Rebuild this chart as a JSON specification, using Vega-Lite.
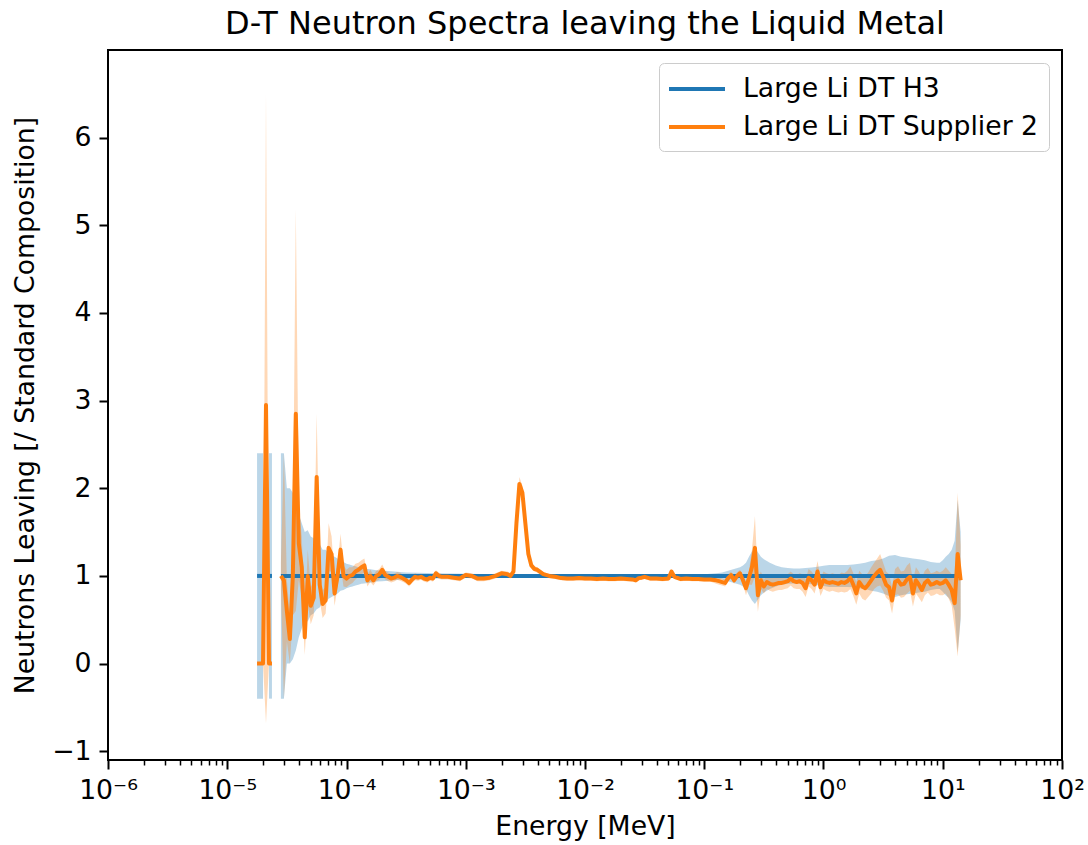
{
  "$schema": "https://vega.github.io/schema/vega-lite/v6.json",
  "width": 954,
  "height": 710,
  "autosize": {"type": "none"},
  "padding": {"left": 108, "top": 50, "right": 26, "bottom": 85},
  "title": {"text": "D-T Neutron Spectra leaving the Liquid Metal"},
  "datasets": {
    "h3": [
      {"energy": 1.778e-5, "seg": "b1", "ratio": 1, "lo": -0.4, "hi": 2.4},
      {"energy": 1.884e-5, "seg": "b1", "ratio": 1, "lo": -0.4, "hi": 2.4},
      {"energy": 1.995e-5, "seg": "b1", "ratio": 1, "lo": -0.4, "hi": 2.4},
      {"energy": 2.239e-5, "seg": "b2", "ratio": 1, "lo": -0.4, "hi": 2.4},
      {"energy": 2.371e-5, "seg": "b2", "ratio": 1, "lo": -0.4, "hi": 2.4},
      {"energy": 2.818e-5, "seg": "b3", "ratio": 1, "lo": -0.4, "hi": 2.4},
      {"energy": 2.985e-5, "seg": "b3", "ratio": 1, "lo": -0.4, "hi": 2.4},
      {"energy": 3.162e-5, "seg": "b3", "ratio": 1, "lo": 0.0, "hi": 2.0},
      {"energy": 3.350e-5, "seg": "b3", "ratio": 1, "lo": 0.0, "hi": 2.0},
      {"energy": 3.548e-5, "seg": "b3", "ratio": 1, "lo": 0.05, "hi": 1.95},
      {"energy": 3.758e-5, "seg": "b3", "ratio": 1, "lo": 0.15, "hi": 1.85},
      {"energy": 3.981e-5, "seg": "b3", "ratio": 1, "lo": 0.3, "hi": 1.7},
      {"energy": 4.217e-5, "seg": "b3", "ratio": 1, "lo": 0.4, "hi": 1.6},
      {"energy": 4.467e-5, "seg": "b3", "ratio": 1, "lo": 0.5, "hi": 1.5},
      {"energy": 4.732e-5, "seg": "b3", "ratio": 1, "lo": 0.48, "hi": 1.52},
      {"energy": 5.012e-5, "seg": "b3", "ratio": 1, "lo": 0.55, "hi": 1.45},
      {"energy": 5.309e-5, "seg": "b3", "ratio": 1, "lo": 0.57, "hi": 1.43},
      {"energy": 5.623e-5, "seg": "b3", "ratio": 1, "lo": 0.62, "hi": 1.38},
      {"energy": 5.957e-5, "seg": "b3", "ratio": 1, "lo": 0.64, "hi": 1.36},
      {"energy": 6.310e-5, "seg": "b3", "ratio": 1, "lo": 0.7, "hi": 1.3},
      {"energy": 6.683e-5, "seg": "b3", "ratio": 1, "lo": 0.7, "hi": 1.3},
      {"energy": 7.079e-5, "seg": "b3", "ratio": 1, "lo": 0.74, "hi": 1.26},
      {"energy": 7.499e-5, "seg": "b3", "ratio": 1, "lo": 0.76, "hi": 1.24},
      {"energy": 7.943e-5, "seg": "b3", "ratio": 1, "lo": 0.78, "hi": 1.22},
      {"energy": 8.414e-5, "seg": "b3", "ratio": 1, "lo": 0.8, "hi": 1.2},
      {"energy": 8.913e-5, "seg": "b3", "ratio": 1, "lo": 0.83, "hi": 1.17},
      {"energy": 9.441e-5, "seg": "b3", "ratio": 1, "lo": 0.84, "hi": 1.16},
      {"energy": 1.000e-4, "seg": "b3", "ratio": 1, "lo": 0.86, "hi": 1.14},
      {"energy": 1.059e-4, "seg": "b3", "ratio": 1, "lo": 0.87, "hi": 1.13},
      {"energy": 1.122e-4, "seg": "b3", "ratio": 1, "lo": 0.88, "hi": 1.12},
      {"energy": 1.189e-4, "seg": "b3", "ratio": 1, "lo": 0.89, "hi": 1.11},
      {"energy": 1.259e-4, "seg": "b3", "ratio": 1, "lo": 0.9, "hi": 1.1},
      {"energy": 1.334e-4, "seg": "b3", "ratio": 1, "lo": 0.91, "hi": 1.09},
      {"energy": 1.413e-4, "seg": "b3", "ratio": 1, "lo": 0.915, "hi": 1.085},
      {"energy": 1.496e-4, "seg": "b3", "ratio": 1, "lo": 0.92, "hi": 1.08},
      {"energy": 1.585e-4, "seg": "b3", "ratio": 1, "lo": 0.925, "hi": 1.075},
      {"energy": 1.679e-4, "seg": "b3", "ratio": 1, "lo": 0.93, "hi": 1.07},
      {"energy": 1.778e-4, "seg": "b3", "ratio": 1, "lo": 0.935, "hi": 1.065},
      {"energy": 1.995e-4, "seg": "b3", "ratio": 1, "lo": 0.94, "hi": 1.06},
      {"energy": 2.239e-4, "seg": "b3", "ratio": 1, "lo": 0.945, "hi": 1.055},
      {"energy": 2.512e-4, "seg": "b3", "ratio": 1, "lo": 0.95, "hi": 1.05},
      {"energy": 2.818e-4, "seg": "b3", "ratio": 1, "lo": 0.955, "hi": 1.045},
      {"energy": 3.162e-4, "seg": "b3", "ratio": 1, "lo": 0.96, "hi": 1.04},
      {"energy": 3.981e-4, "seg": "b3", "ratio": 1, "lo": 0.965, "hi": 1.035},
      {"energy": 5.623e-4, "seg": "b3", "ratio": 1, "lo": 0.97, "hi": 1.03},
      {"energy": 1.000e-3, "seg": "b3", "ratio": 1, "lo": 0.975, "hi": 1.025},
      {"energy": 1.778e-3, "seg": "b3", "ratio": 1, "lo": 0.98, "hi": 1.02},
      {"energy": 0.1, "seg": "b3", "ratio": 1, "lo": 0.98, "hi": 1.02},
      {"energy": 0.1259, "seg": "b3", "ratio": 1, "lo": 0.97, "hi": 1.03},
      {"energy": 0.1413, "seg": "b3", "ratio": 1, "lo": 0.96, "hi": 1.04},
      {"energy": 0.1585, "seg": "b3", "ratio": 1, "lo": 0.94, "hi": 1.06},
      {"energy": 0.1778, "seg": "b3", "ratio": 1, "lo": 0.92, "hi": 1.08},
      {"energy": 0.1995, "seg": "b3", "ratio": 1, "lo": 0.9, "hi": 1.1},
      {"energy": 0.2113, "seg": "b3", "ratio": 1, "lo": 0.88, "hi": 1.12},
      {"energy": 0.2239, "seg": "b3", "ratio": 1, "lo": 0.85, "hi": 1.15},
      {"energy": 0.2371, "seg": "b3", "ratio": 1, "lo": 0.78, "hi": 1.22},
      {"energy": 0.2512, "seg": "b3", "ratio": 1, "lo": 0.72, "hi": 1.28},
      {"energy": 0.2661, "seg": "b3", "ratio": 1, "lo": 0.68, "hi": 1.32},
      {"energy": 0.2818, "seg": "b3", "ratio": 1, "lo": 0.73, "hi": 1.27},
      {"energy": 0.2985, "seg": "b3", "ratio": 1, "lo": 0.78, "hi": 1.22},
      {"energy": 0.3162, "seg": "b3", "ratio": 1, "lo": 0.81, "hi": 1.19},
      {"energy": 0.3350, "seg": "b3", "ratio": 1, "lo": 0.83, "hi": 1.17},
      {"energy": 0.3548, "seg": "b3", "ratio": 1, "lo": 0.85, "hi": 1.15},
      {"energy": 0.3981, "seg": "b3", "ratio": 1, "lo": 0.88, "hi": 1.12},
      {"energy": 0.4467, "seg": "b3", "ratio": 1, "lo": 0.9, "hi": 1.1},
      {"energy": 0.5012, "seg": "b3", "ratio": 1, "lo": 0.91, "hi": 1.09},
      {"energy": 0.5623, "seg": "b3", "ratio": 1, "lo": 0.915, "hi": 1.085},
      {"energy": 0.6310, "seg": "b3", "ratio": 1, "lo": 0.915, "hi": 1.085},
      {"energy": 0.7079, "seg": "b3", "ratio": 1, "lo": 0.91, "hi": 1.09},
      {"energy": 0.7943, "seg": "b3", "ratio": 1, "lo": 0.905, "hi": 1.095},
      {"energy": 0.8913, "seg": "b3", "ratio": 1, "lo": 0.895, "hi": 1.105},
      {"energy": 1.0, "seg": "b3", "ratio": 1, "lo": 0.885, "hi": 1.115},
      {"energy": 1.122, "seg": "b3", "ratio": 1, "lo": 0.875, "hi": 1.125},
      {"energy": 1.259, "seg": "b3", "ratio": 1, "lo": 0.875, "hi": 1.125},
      {"energy": 1.413, "seg": "b3", "ratio": 1, "lo": 0.875, "hi": 1.125},
      {"energy": 1.585, "seg": "b3", "ratio": 1, "lo": 0.875, "hi": 1.125},
      {"energy": 1.778, "seg": "b3", "ratio": 1, "lo": 0.87, "hi": 1.13},
      {"energy": 1.995, "seg": "b3", "ratio": 1, "lo": 0.86, "hi": 1.14},
      {"energy": 2.239, "seg": "b3", "ratio": 1, "lo": 0.85, "hi": 1.15},
      {"energy": 2.512, "seg": "b3", "ratio": 1, "lo": 0.83, "hi": 1.17},
      {"energy": 2.818, "seg": "b3", "ratio": 1, "lo": 0.82, "hi": 1.18},
      {"energy": 3.162, "seg": "b3", "ratio": 1, "lo": 0.8, "hi": 1.2},
      {"energy": 3.548, "seg": "b3", "ratio": 1, "lo": 0.77, "hi": 1.23},
      {"energy": 3.981, "seg": "b3", "ratio": 1, "lo": 0.76, "hi": 1.24},
      {"energy": 4.467, "seg": "b3", "ratio": 1, "lo": 0.78, "hi": 1.22},
      {"energy": 5.012, "seg": "b3", "ratio": 1, "lo": 0.79, "hi": 1.21},
      {"energy": 5.623, "seg": "b3", "ratio": 1, "lo": 0.8, "hi": 1.2},
      {"energy": 6.310, "seg": "b3", "ratio": 1, "lo": 0.81, "hi": 1.19},
      {"energy": 7.079, "seg": "b3", "ratio": 1, "lo": 0.82, "hi": 1.18},
      {"energy": 7.943, "seg": "b3", "ratio": 1, "lo": 0.84, "hi": 1.16},
      {"energy": 8.913, "seg": "b3", "ratio": 1, "lo": 0.85, "hi": 1.15},
      {"energy": 9.441, "seg": "b3", "ratio": 1, "lo": 0.85, "hi": 1.15},
      {"energy": 10.0, "seg": "b3", "ratio": 1, "lo": 0.82, "hi": 1.18},
      {"energy": 10.59, "seg": "b3", "ratio": 1, "lo": 0.78, "hi": 1.22},
      {"energy": 11.22, "seg": "b3", "ratio": 1, "lo": 0.75, "hi": 1.25},
      {"energy": 11.89, "seg": "b3", "ratio": 1, "lo": 0.7, "hi": 1.3},
      {"energy": 12.59, "seg": "b3", "ratio": 1, "lo": 0.6, "hi": 1.4},
      {"energy": 13.34, "seg": "b3", "ratio": 1, "lo": 0.13, "hi": 1.87},
      {"energy": 14.13, "seg": "b3", "ratio": 1, "lo": 0.5, "hi": 1.5}
    ],
    "supplier2": [
      {"energy": 1.778e-5, "seg": "o1", "ratio": 0, "lo": 0, "hi": 0},
      {"energy": 1.884e-5, "seg": "o1", "ratio": 0, "lo": 0, "hi": 0},
      {"energy": 1.995e-5, "seg": "o1", "ratio": 0, "lo": 0, "hi": 0},
      {"energy": 2.113e-5, "seg": "o1", "ratio": 2.95, "lo": -0.68, "hi": 6.5},
      {"energy": 2.239e-5, "seg": "o1", "ratio": 0, "lo": 0, "hi": 0},
      {"energy": 2.371e-5, "seg": "o1", "ratio": 0, "lo": 0, "hi": 0},
      {"energy": 2.818e-5, "seg": "o2", "ratio": 1.0, "lo": 0.85, "hi": 1.15},
      {"energy": 2.985e-5, "seg": "o2", "ratio": 0.95, "lo": -0.4, "hi": 2.4},
      {"energy": 3.162e-5, "seg": "o2", "ratio": 0.6, "lo": 0.25, "hi": 0.95},
      {"energy": 3.350e-5, "seg": "o2", "ratio": 0.28, "lo": 0.0, "hi": 0.55},
      {"energy": 3.548e-5, "seg": "o2", "ratio": 1.0, "lo": 0.55, "hi": 1.45},
      {"energy": 3.758e-5, "seg": "o2", "ratio": 2.85, "lo": 0.6, "hi": 5.18},
      {"energy": 3.981e-5, "seg": "o2", "ratio": 1.37, "lo": 0.95, "hi": 1.8},
      {"energy": 4.217e-5, "seg": "o2", "ratio": 1.1, "lo": 0.75, "hi": 1.45},
      {"energy": 4.467e-5, "seg": "o2", "ratio": 0.3, "lo": 0.1, "hi": 0.5},
      {"energy": 4.732e-5, "seg": "o2", "ratio": 1.0, "lo": 0.7, "hi": 1.3},
      {"energy": 5.012e-5, "seg": "o2", "ratio": 0.66, "lo": 0.45, "hi": 0.87},
      {"energy": 5.309e-5, "seg": "o2", "ratio": 0.75, "lo": 0.55, "hi": 0.95},
      {"energy": 5.623e-5, "seg": "o2", "ratio": 2.13, "lo": 1.45, "hi": 2.85},
      {"energy": 5.957e-5, "seg": "o2", "ratio": 0.9, "lo": 0.72, "hi": 1.08},
      {"energy": 6.310e-5, "seg": "o2", "ratio": 0.68, "lo": 0.52, "hi": 0.84},
      {"energy": 6.683e-5, "seg": "o2", "ratio": 0.72, "lo": 0.57, "hi": 0.87},
      {"energy": 7.079e-5, "seg": "o2", "ratio": 1.32, "lo": 1.05, "hi": 1.6},
      {"energy": 7.499e-5, "seg": "o2", "ratio": 1.25, "lo": 1.05, "hi": 1.45},
      {"energy": 7.943e-5, "seg": "o2", "ratio": 0.8, "lo": 0.66, "hi": 0.94},
      {"energy": 8.414e-5, "seg": "o2", "ratio": 1.0, "lo": 0.87, "hi": 1.13},
      {"energy": 8.913e-5, "seg": "o2", "ratio": 1.3, "lo": 1.12, "hi": 1.48},
      {"energy": 9.441e-5, "seg": "o2", "ratio": 1.0, "lo": 0.88, "hi": 1.12},
      {"energy": 1.000e-4, "seg": "o2", "ratio": 0.97, "lo": 0.87, "hi": 1.07},
      {"energy": 1.059e-4, "seg": "o2", "ratio": 1.0, "lo": 0.9, "hi": 1.1},
      {"energy": 1.122e-4, "seg": "o2", "ratio": 1.01, "lo": 0.92, "hi": 1.1},
      {"energy": 1.189e-4, "seg": "o2", "ratio": 1.05, "lo": 0.96, "hi": 1.14},
      {"energy": 1.259e-4, "seg": "o2", "ratio": 1.07, "lo": 0.99, "hi": 1.15},
      {"energy": 1.334e-4, "seg": "o2", "ratio": 1.1, "lo": 1.02, "hi": 1.18},
      {"energy": 1.413e-4, "seg": "o2", "ratio": 1.12, "lo": 1.04, "hi": 1.2},
      {"energy": 1.496e-4, "seg": "o2", "ratio": 0.95, "lo": 0.88, "hi": 1.02},
      {"energy": 1.585e-4, "seg": "o2", "ratio": 1.0, "lo": 0.93, "hi": 1.07},
      {"energy": 1.679e-4, "seg": "o2", "ratio": 0.95, "lo": 0.89, "hi": 1.01},
      {"energy": 1.778e-4, "seg": "o2", "ratio": 1.0, "lo": 0.94, "hi": 1.06},
      {"energy": 1.884e-4, "seg": "o2", "ratio": 1.02, "lo": 0.96, "hi": 1.08},
      {"energy": 1.995e-4, "seg": "o2", "ratio": 1.07, "lo": 1.01, "hi": 1.13},
      {"energy": 2.113e-4, "seg": "o2", "ratio": 1.01, "lo": 0.96, "hi": 1.06},
      {"energy": 2.239e-4, "seg": "o2", "ratio": 0.99, "lo": 0.94, "hi": 1.04},
      {"energy": 2.371e-4, "seg": "o2", "ratio": 0.97, "lo": 0.925, "hi": 1.015},
      {"energy": 2.512e-4, "seg": "o2", "ratio": 0.98, "lo": 0.935, "hi": 1.025},
      {"energy": 2.661e-4, "seg": "o2", "ratio": 1.0, "lo": 0.955, "hi": 1.045},
      {"energy": 2.818e-4, "seg": "o2", "ratio": 0.99, "lo": 0.945, "hi": 1.035},
      {"energy": 2.985e-4, "seg": "o2", "ratio": 0.97, "lo": 0.93, "hi": 1.01},
      {"energy": 3.162e-4, "seg": "o2", "ratio": 0.95, "lo": 0.91, "hi": 0.99},
      {"energy": 3.350e-4, "seg": "o2", "ratio": 0.92, "lo": 0.88, "hi": 0.96},
      {"energy": 3.548e-4, "seg": "o2", "ratio": 0.96, "lo": 0.92, "hi": 1.0},
      {"energy": 3.758e-4, "seg": "o2", "ratio": 0.99, "lo": 0.95, "hi": 1.03},
      {"energy": 3.981e-4, "seg": "o2", "ratio": 0.98, "lo": 0.945, "hi": 1.015},
      {"energy": 4.217e-4, "seg": "o2", "ratio": 0.99, "lo": 0.955, "hi": 1.025},
      {"energy": 4.467e-4, "seg": "o2", "ratio": 0.97, "lo": 0.935, "hi": 1.005},
      {"energy": 4.732e-4, "seg": "o2", "ratio": 0.96, "lo": 0.925, "hi": 0.995},
      {"energy": 5.012e-4, "seg": "o2", "ratio": 0.98, "lo": 0.945, "hi": 1.015},
      {"energy": 5.309e-4, "seg": "o2", "ratio": 0.97, "lo": 0.935, "hi": 1.005},
      {"energy": 5.623e-4, "seg": "o2", "ratio": 1.03, "lo": 0.995, "hi": 1.065},
      {"energy": 5.957e-4, "seg": "o2", "ratio": 1.0, "lo": 0.965, "hi": 1.035},
      {"energy": 6.310e-4, "seg": "o2", "ratio": 0.99, "lo": 0.96, "hi": 1.02},
      {"energy": 7.079e-4, "seg": "o2", "ratio": 0.99, "lo": 0.96, "hi": 1.02},
      {"energy": 7.943e-4, "seg": "o2", "ratio": 0.98, "lo": 0.95, "hi": 1.01},
      {"energy": 8.913e-4, "seg": "o2", "ratio": 0.97, "lo": 0.94, "hi": 1.0},
      {"energy": 1.000e-3, "seg": "o2", "ratio": 1.01, "lo": 0.98, "hi": 1.04},
      {"energy": 1.122e-3, "seg": "o2", "ratio": 1.0, "lo": 0.97, "hi": 1.03},
      {"energy": 1.259e-3, "seg": "o2", "ratio": 0.97, "lo": 0.94, "hi": 1.0},
      {"energy": 1.413e-3, "seg": "o2", "ratio": 0.97, "lo": 0.94, "hi": 1.0},
      {"energy": 1.585e-3, "seg": "o2", "ratio": 0.98, "lo": 0.95, "hi": 1.01},
      {"energy": 1.778e-3, "seg": "o2", "ratio": 1.0, "lo": 0.97, "hi": 1.03},
      {"energy": 1.995e-3, "seg": "o2", "ratio": 1.03, "lo": 1.0, "hi": 1.06},
      {"energy": 2.239e-3, "seg": "o2", "ratio": 1.02, "lo": 0.99, "hi": 1.05},
      {"energy": 2.371e-3, "seg": "o2", "ratio": 1.0, "lo": 0.97, "hi": 1.03},
      {"energy": 2.512e-3, "seg": "o2", "ratio": 1.05, "lo": 1.02, "hi": 1.08},
      {"energy": 2.661e-3, "seg": "o2", "ratio": 1.6, "lo": 1.54, "hi": 1.66},
      {"energy": 2.818e-3, "seg": "o2", "ratio": 2.05, "lo": 1.97, "hi": 2.13},
      {"energy": 2.985e-3, "seg": "o2", "ratio": 1.95, "lo": 1.87, "hi": 2.03},
      {"energy": 3.162e-3, "seg": "o2", "ratio": 1.6, "lo": 1.54, "hi": 1.66},
      {"energy": 3.350e-3, "seg": "o2", "ratio": 1.25, "lo": 1.21, "hi": 1.29},
      {"energy": 3.548e-3, "seg": "o2", "ratio": 1.12, "lo": 1.09, "hi": 1.15},
      {"energy": 3.758e-3, "seg": "o2", "ratio": 1.08, "lo": 1.05, "hi": 1.11},
      {"energy": 3.981e-3, "seg": "o2", "ratio": 1.07, "lo": 1.04, "hi": 1.1},
      {"energy": 4.467e-3, "seg": "o2", "ratio": 1.02, "lo": 0.995, "hi": 1.045},
      {"energy": 5.012e-3, "seg": "o2", "ratio": 1.0, "lo": 0.975, "hi": 1.025},
      {"energy": 5.623e-3, "seg": "o2", "ratio": 0.99, "lo": 0.965, "hi": 1.015},
      {"energy": 6.310e-3, "seg": "o2", "ratio": 0.975, "lo": 0.95, "hi": 1.0},
      {"energy": 7.079e-3, "seg": "o2", "ratio": 0.97, "lo": 0.945, "hi": 0.995},
      {"energy": 7.943e-3, "seg": "o2", "ratio": 0.97, "lo": 0.945, "hi": 0.995},
      {"energy": 8.913e-3, "seg": "o2", "ratio": 0.975, "lo": 0.95, "hi": 1.0},
      {"energy": 1.000e-2, "seg": "o2", "ratio": 0.97, "lo": 0.945, "hi": 0.995},
      {"energy": 1.122e-2, "seg": "o2", "ratio": 0.97, "lo": 0.945, "hi": 0.995},
      {"energy": 1.259e-2, "seg": "o2", "ratio": 0.965, "lo": 0.94, "hi": 0.99},
      {"energy": 1.413e-2, "seg": "o2", "ratio": 0.97, "lo": 0.945, "hi": 0.995},
      {"energy": 1.585e-2, "seg": "o2", "ratio": 0.965, "lo": 0.94, "hi": 0.99},
      {"energy": 1.778e-2, "seg": "o2", "ratio": 0.965, "lo": 0.94, "hi": 0.99},
      {"energy": 1.995e-2, "seg": "o2", "ratio": 0.97, "lo": 0.945, "hi": 0.995},
      {"energy": 2.239e-2, "seg": "o2", "ratio": 0.965, "lo": 0.94, "hi": 0.99},
      {"energy": 2.512e-2, "seg": "o2", "ratio": 0.96, "lo": 0.935, "hi": 0.985},
      {"energy": 2.661e-2, "seg": "o2", "ratio": 0.95, "lo": 0.925, "hi": 0.975},
      {"energy": 2.818e-2, "seg": "o2", "ratio": 0.975, "lo": 0.95, "hi": 1.0},
      {"energy": 2.985e-2, "seg": "o2", "ratio": 0.98, "lo": 0.955, "hi": 1.005},
      {"energy": 3.162e-2, "seg": "o2", "ratio": 0.99, "lo": 0.965, "hi": 1.015},
      {"energy": 3.548e-2, "seg": "o2", "ratio": 0.97, "lo": 0.945, "hi": 0.995},
      {"energy": 3.981e-2, "seg": "o2", "ratio": 0.97, "lo": 0.945, "hi": 0.995},
      {"energy": 4.467e-2, "seg": "o2", "ratio": 0.965, "lo": 0.94, "hi": 0.99},
      {"energy": 5.012e-2, "seg": "o2", "ratio": 0.97, "lo": 0.945, "hi": 0.995},
      {"energy": 5.309e-2, "seg": "o2", "ratio": 1.05, "lo": 1.02, "hi": 1.08},
      {"energy": 5.623e-2, "seg": "o2", "ratio": 0.99, "lo": 0.965, "hi": 1.015},
      {"energy": 6.310e-2, "seg": "o2", "ratio": 0.965, "lo": 0.94, "hi": 0.99},
      {"energy": 7.079e-2, "seg": "o2", "ratio": 0.97, "lo": 0.945, "hi": 0.995},
      {"energy": 7.943e-2, "seg": "o2", "ratio": 0.965, "lo": 0.94, "hi": 0.99},
      {"energy": 8.913e-2, "seg": "o2", "ratio": 0.965, "lo": 0.94, "hi": 0.99},
      {"energy": 0.1, "seg": "o2", "ratio": 0.96, "lo": 0.935, "hi": 0.985},
      {"energy": 0.1122, "seg": "o2", "ratio": 0.96, "lo": 0.935, "hi": 0.985},
      {"energy": 0.1259, "seg": "o2", "ratio": 0.95, "lo": 0.91, "hi": 0.99},
      {"energy": 0.1334, "seg": "o2", "ratio": 0.94, "lo": 0.9, "hi": 0.98},
      {"energy": 0.1413, "seg": "o2", "ratio": 0.93, "lo": 0.89, "hi": 0.97},
      {"energy": 0.1496, "seg": "o2", "ratio": 0.92, "lo": 0.88, "hi": 0.96},
      {"energy": 0.1585, "seg": "o2", "ratio": 0.975, "lo": 0.935, "hi": 1.015},
      {"energy": 0.1679, "seg": "o2", "ratio": 1.01, "lo": 0.97, "hi": 1.05},
      {"energy": 0.1778, "seg": "o2", "ratio": 0.95, "lo": 0.91, "hi": 0.99},
      {"energy": 0.1884, "seg": "o2", "ratio": 1.0, "lo": 0.96, "hi": 1.04},
      {"energy": 0.1995, "seg": "o2", "ratio": 1.03, "lo": 0.99, "hi": 1.07},
      {"energy": 0.2113, "seg": "o2", "ratio": 0.95, "lo": 0.9, "hi": 1.0},
      {"energy": 0.2239, "seg": "o2", "ratio": 0.86, "lo": 0.78, "hi": 0.94},
      {"energy": 0.2371, "seg": "o2", "ratio": 0.98, "lo": 0.9, "hi": 1.06},
      {"energy": 0.2512, "seg": "o2", "ratio": 1.1, "lo": 0.9, "hi": 1.3},
      {"energy": 0.2661, "seg": "o2", "ratio": 1.32, "lo": 1.0, "hi": 1.68},
      {"energy": 0.2818, "seg": "o2", "ratio": 0.78, "lo": 0.59, "hi": 0.97},
      {"energy": 0.2985, "seg": "o2", "ratio": 0.95, "lo": 0.85, "hi": 1.05},
      {"energy": 0.3162, "seg": "o2", "ratio": 0.88, "lo": 0.8, "hi": 0.96},
      {"energy": 0.3350, "seg": "o2", "ratio": 0.93, "lo": 0.85, "hi": 1.01},
      {"energy": 0.3548, "seg": "o2", "ratio": 0.91, "lo": 0.83, "hi": 0.99},
      {"energy": 0.3758, "seg": "o2", "ratio": 0.9, "lo": 0.82, "hi": 0.98},
      {"energy": 0.3981, "seg": "o2", "ratio": 0.91, "lo": 0.83, "hi": 0.99},
      {"energy": 0.4217, "seg": "o2", "ratio": 0.92, "lo": 0.84, "hi": 1.0},
      {"energy": 0.4467, "seg": "o2", "ratio": 0.92, "lo": 0.84, "hi": 1.0},
      {"energy": 0.4732, "seg": "o2", "ratio": 0.93, "lo": 0.85, "hi": 1.01},
      {"energy": 0.5012, "seg": "o2", "ratio": 0.94, "lo": 0.86, "hi": 1.02},
      {"energy": 0.5309, "seg": "o2", "ratio": 0.97, "lo": 0.89, "hi": 1.05},
      {"energy": 0.5623, "seg": "o2", "ratio": 0.94, "lo": 0.86, "hi": 1.02},
      {"energy": 0.5957, "seg": "o2", "ratio": 0.93, "lo": 0.85, "hi": 1.01},
      {"energy": 0.6310, "seg": "o2", "ratio": 0.94, "lo": 0.85, "hi": 1.03},
      {"energy": 0.6683, "seg": "o2", "ratio": 0.92, "lo": 0.82, "hi": 1.02},
      {"energy": 0.7079, "seg": "o2", "ratio": 0.86, "lo": 0.76, "hi": 0.96},
      {"energy": 0.7499, "seg": "o2", "ratio": 0.98, "lo": 0.88, "hi": 1.08},
      {"energy": 0.7943, "seg": "o2", "ratio": 0.95, "lo": 0.85, "hi": 1.05},
      {"energy": 0.8414, "seg": "o2", "ratio": 0.9, "lo": 0.8, "hi": 1.0},
      {"energy": 0.8913, "seg": "o2", "ratio": 1.05, "lo": 0.93, "hi": 1.17},
      {"energy": 0.9441, "seg": "o2", "ratio": 0.87, "lo": 0.77, "hi": 0.97},
      {"energy": 1.0, "seg": "o2", "ratio": 0.95, "lo": 0.85, "hi": 1.05},
      {"energy": 1.059, "seg": "o2", "ratio": 0.93, "lo": 0.83, "hi": 1.03},
      {"energy": 1.122, "seg": "o2", "ratio": 0.92, "lo": 0.82, "hi": 1.02},
      {"energy": 1.189, "seg": "o2", "ratio": 0.93, "lo": 0.83, "hi": 1.03},
      {"energy": 1.259, "seg": "o2", "ratio": 0.92, "lo": 0.82, "hi": 1.02},
      {"energy": 1.334, "seg": "o2", "ratio": 0.91, "lo": 0.81, "hi": 1.01},
      {"energy": 1.413, "seg": "o2", "ratio": 0.93, "lo": 0.82, "hi": 1.04},
      {"energy": 1.496, "seg": "o2", "ratio": 0.92, "lo": 0.81, "hi": 1.03},
      {"energy": 1.585, "seg": "o2", "ratio": 0.94, "lo": 0.82, "hi": 1.06},
      {"energy": 1.679, "seg": "o2", "ratio": 0.98, "lo": 0.85, "hi": 1.11},
      {"energy": 1.778, "seg": "o2", "ratio": 0.9, "lo": 0.77, "hi": 1.03},
      {"energy": 1.884, "seg": "o2", "ratio": 0.8, "lo": 0.67, "hi": 0.93},
      {"energy": 1.995, "seg": "o2", "ratio": 0.93, "lo": 0.8, "hi": 1.06},
      {"energy": 2.113, "seg": "o2", "ratio": 0.88, "lo": 0.74, "hi": 1.02},
      {"energy": 2.239, "seg": "o2", "ratio": 0.86, "lo": 0.72, "hi": 1.0},
      {"energy": 2.371, "seg": "o2", "ratio": 0.9, "lo": 0.76, "hi": 1.04},
      {"energy": 2.512, "seg": "o2", "ratio": 0.95, "lo": 0.8, "hi": 1.1},
      {"energy": 2.661, "seg": "o2", "ratio": 1.0, "lo": 0.85, "hi": 1.15},
      {"energy": 2.818, "seg": "o2", "ratio": 1.04, "lo": 0.88, "hi": 1.2},
      {"energy": 2.985, "seg": "o2", "ratio": 1.07, "lo": 0.89, "hi": 1.25},
      {"energy": 3.162, "seg": "o2", "ratio": 0.99, "lo": 0.83, "hi": 1.15},
      {"energy": 3.350, "seg": "o2", "ratio": 0.9, "lo": 0.75, "hi": 1.05},
      {"energy": 3.548, "seg": "o2", "ratio": 0.87, "lo": 0.72, "hi": 1.02},
      {"energy": 3.758, "seg": "o2", "ratio": 0.72, "lo": 0.57, "hi": 0.87},
      {"energy": 3.981, "seg": "o2", "ratio": 0.93, "lo": 0.78, "hi": 1.08},
      {"energy": 4.217, "seg": "o2", "ratio": 0.95, "lo": 0.79, "hi": 1.11},
      {"energy": 4.467, "seg": "o2", "ratio": 0.9, "lo": 0.75, "hi": 1.05},
      {"energy": 4.732, "seg": "o2", "ratio": 0.91, "lo": 0.76, "hi": 1.06},
      {"energy": 5.012, "seg": "o2", "ratio": 0.96, "lo": 0.8, "hi": 1.12},
      {"energy": 5.309, "seg": "o2", "ratio": 0.99, "lo": 0.83, "hi": 1.15},
      {"energy": 5.623, "seg": "o2", "ratio": 0.8, "lo": 0.65, "hi": 0.95},
      {"energy": 5.957, "seg": "o2", "ratio": 0.95, "lo": 0.8, "hi": 1.1},
      {"energy": 6.310, "seg": "o2", "ratio": 0.9, "lo": 0.75, "hi": 1.05},
      {"energy": 6.683, "seg": "o2", "ratio": 0.84, "lo": 0.7, "hi": 0.98},
      {"energy": 7.079, "seg": "o2", "ratio": 0.92, "lo": 0.78, "hi": 1.06},
      {"energy": 7.499, "seg": "o2", "ratio": 0.95, "lo": 0.81, "hi": 1.09},
      {"energy": 7.943, "seg": "o2", "ratio": 0.9, "lo": 0.77, "hi": 1.03},
      {"energy": 8.414, "seg": "o2", "ratio": 0.91, "lo": 0.78, "hi": 1.04},
      {"energy": 8.913, "seg": "o2", "ratio": 0.93, "lo": 0.8, "hi": 1.06},
      {"energy": 9.441, "seg": "o2", "ratio": 0.91, "lo": 0.78, "hi": 1.04},
      {"energy": 10.0, "seg": "o2", "ratio": 0.92, "lo": 0.78, "hi": 1.06},
      {"energy": 10.59, "seg": "o2", "ratio": 0.95, "lo": 0.8, "hi": 1.1},
      {"energy": 11.22, "seg": "o2", "ratio": 0.9, "lo": 0.74, "hi": 1.06},
      {"energy": 11.89, "seg": "o2", "ratio": 0.84, "lo": 0.66, "hi": 1.02},
      {"energy": 12.59, "seg": "o2", "ratio": 0.69, "lo": 0.4, "hi": 0.98},
      {"energy": 13.34, "seg": "o2", "ratio": 1.25, "lo": 0.08, "hi": 1.95},
      {"energy": 14.13, "seg": "o2", "ratio": 0.95, "lo": 0.55, "hi": 1.35}
    ]
  },
  "encoding": {
    "x": {
      "field": "energy",
      "type": "quantitative",
      "title": "Energy [MeV]",
      "scale": {"type": "log", "domain": [1e-6, 100], "nice": false},
      "axis": {
        "values": [1e-6, 2e-6, 3e-6, 4e-6, 5e-6, 6e-6, 7e-6, 8e-6, 9e-6,
                   1e-5, 2e-5, 3e-5, 4e-5, 5e-5, 6e-5, 7e-5, 8e-5, 9e-5,
                   1e-4, 2e-4, 3e-4, 4e-4, 5e-4, 6e-4, 7e-4, 8e-4, 9e-4,
                   1e-3, 2e-3, 3e-3, 4e-3, 5e-3, 6e-3, 7e-3, 8e-3, 9e-3,
                   1e-2, 2e-2, 3e-2, 4e-2, 5e-2, 6e-2, 7e-2, 8e-2, 9e-2,
                   0.1, 0.2, 0.3, 0.4, 0.5, 0.6, 0.7, 0.8, 0.9,
                   1, 2, 3, 4, 5, 6, 7, 8, 9,
                   10, 20, 30, 40, 50, 60, 70, 80, 90, 100],
        "labelExpr": "abs(log(datum.value)/LN10 - round(log(datum.value)/LN10)) < 0.01 ? '10' + ['⁻⁶','⁻⁵','⁻⁴','⁻³','⁻²','⁻¹','⁰','¹','²'][round(log(datum.value)/LN10) + 6] : ''",
        "tickSize": {"condition": {"test": "abs(log(datum.value)/LN10 - round(log(datum.value)/LN10)) < 0.01", "value": 9}, "value": 5},
        "tickWidth": {"condition": {"test": "abs(log(datum.value)/LN10 - round(log(datum.value)/LN10)) < 0.01", "value": 2}, "value": 1.5},
        "labelFlush": false,
        "labelOverlap": false,
        "labelBound": false,
        "labelPadding": 8,
        "titlePadding": 10
      }
    }
  },
  "layer": [
    {
      "data": {"name": "h3"},
      "mark": {"type": "area", "color": "#1f77b4", "opacity": 0.3, "clip": true},
      "encoding": {
        "y": {"field": "lo", "type": "quantitative", "title": "Neutrons Leaving [/ Standard Composition]",
              "scale": {"domain": [-1.1, 7.0], "nice": false, "zero": false},
              "axis": {"values": [-1, 0, 1, 2, 3, 4, 5, 6], "tickSize": 9, "tickWidth": 2, "labelPadding": 8, "titlePadding": 12}},
        "y2": {"field": "hi"},
        "detail": {"field": "seg"}
      }
    },
    {
      "data": {"name": "supplier2"},
      "mark": {"type": "area", "color": "#ff7f0e", "opacity": 0.3, "clip": true},
      "encoding": {
        "y": {"field": "lo", "type": "quantitative", "title": "Neutrons Leaving [/ Standard Composition]",
              "scale": {"domain": [-1.1, 7.0], "nice": false, "zero": false},
              "axis": {"values": [-1, 0, 1, 2, 3, 4, 5, 6], "tickSize": 9, "tickWidth": 2, "labelPadding": 8, "titlePadding": 12}},
        "y2": {"field": "hi"},
        "detail": {"field": "seg"}
      }
    },
    {
      "data": {"name": "h3"},
      "mark": {"type": "line", "strokeWidth": 4, "strokeJoin": "round", "strokeCap": "butt", "clip": true},
      "encoding": {
        "y": {"field": "ratio", "type": "quantitative", "title": "Neutrons Leaving [/ Standard Composition]",
              "scale": {"domain": [-1.1, 7.0], "nice": false, "zero": false},
              "axis": {"values": [-1, 0, 1, 2, 3, 4, 5, 6], "tickSize": 9, "tickWidth": 2, "labelPadding": 8, "titlePadding": 12}},
        "detail": {"field": "seg"},
        "color": {"datum": "Large Li DT H3", "type": "nominal",
                  "scale": {"domain": ["Large Li DT H3", "Large Li DT Supplier 2"], "range": ["#1f77b4", "#ff7f0e"]},
                  "legend": {"title": null}}
      }
    },
    {
      "data": {"name": "supplier2"},
      "mark": {"type": "line", "strokeWidth": 4, "strokeJoin": "round", "strokeCap": "butt", "clip": true},
      "encoding": {
        "y": {"field": "ratio", "type": "quantitative", "title": "Neutrons Leaving [/ Standard Composition]",
              "scale": {"domain": [-1.1, 7.0], "nice": false, "zero": false},
              "axis": {"values": [-1, 0, 1, 2, 3, 4, 5, 6], "tickSize": 9, "tickWidth": 2, "labelPadding": 8, "titlePadding": 12}},
        "detail": {"field": "seg"},
        "color": {"datum": "Large Li DT Supplier 2", "type": "nominal",
                  "scale": {"domain": ["Large Li DT H3", "Large Li DT Supplier 2"], "range": ["#1f77b4", "#ff7f0e"]},
                  "legend": {"title": null}}
      }
    }
  ],
  "config": {
    "font": "DejaVu Sans",
    "background": "white",
    "view": {"stroke": "black", "strokeWidth": 2},
    "axis": {
      "domain": false,
      "grid": false,
      "tickColor": "black",
      "labelColor": "black",
      "titleColor": "black",
      "labelFont": "DejaVu Sans",
      "titleFont": "DejaVu Sans",
      "labelFontSize": 26.7,
      "titleFontSize": 26.7,
      "titleFontWeight": "normal"
    },
    "legend": {
      "orient": "top-right",
      "offset": 13,
      "padding": 10,
      "rowPadding": 8,
      "symbolType": "M-2,0H2",
      "symbolSize": 784,
      "symbolOffset": 12,
      "symbolStrokeWidth": 4,
      "labelFont": "DejaVu Sans",
      "labelFontSize": 26.7,
      "labelColor": "black",
      "labelOffset": 30,
      "labelLimit": 600,
      "strokeColor": "#cccccc",
      "fillColor": "white",
      "cornerRadius": 5
    },
    "title": {
      "font": "DejaVu Sans",
      "fontSize": 32,
      "fontWeight": "normal",
      "color": "black",
      "anchor": "middle",
      "offset": 9
    }
  }
}
